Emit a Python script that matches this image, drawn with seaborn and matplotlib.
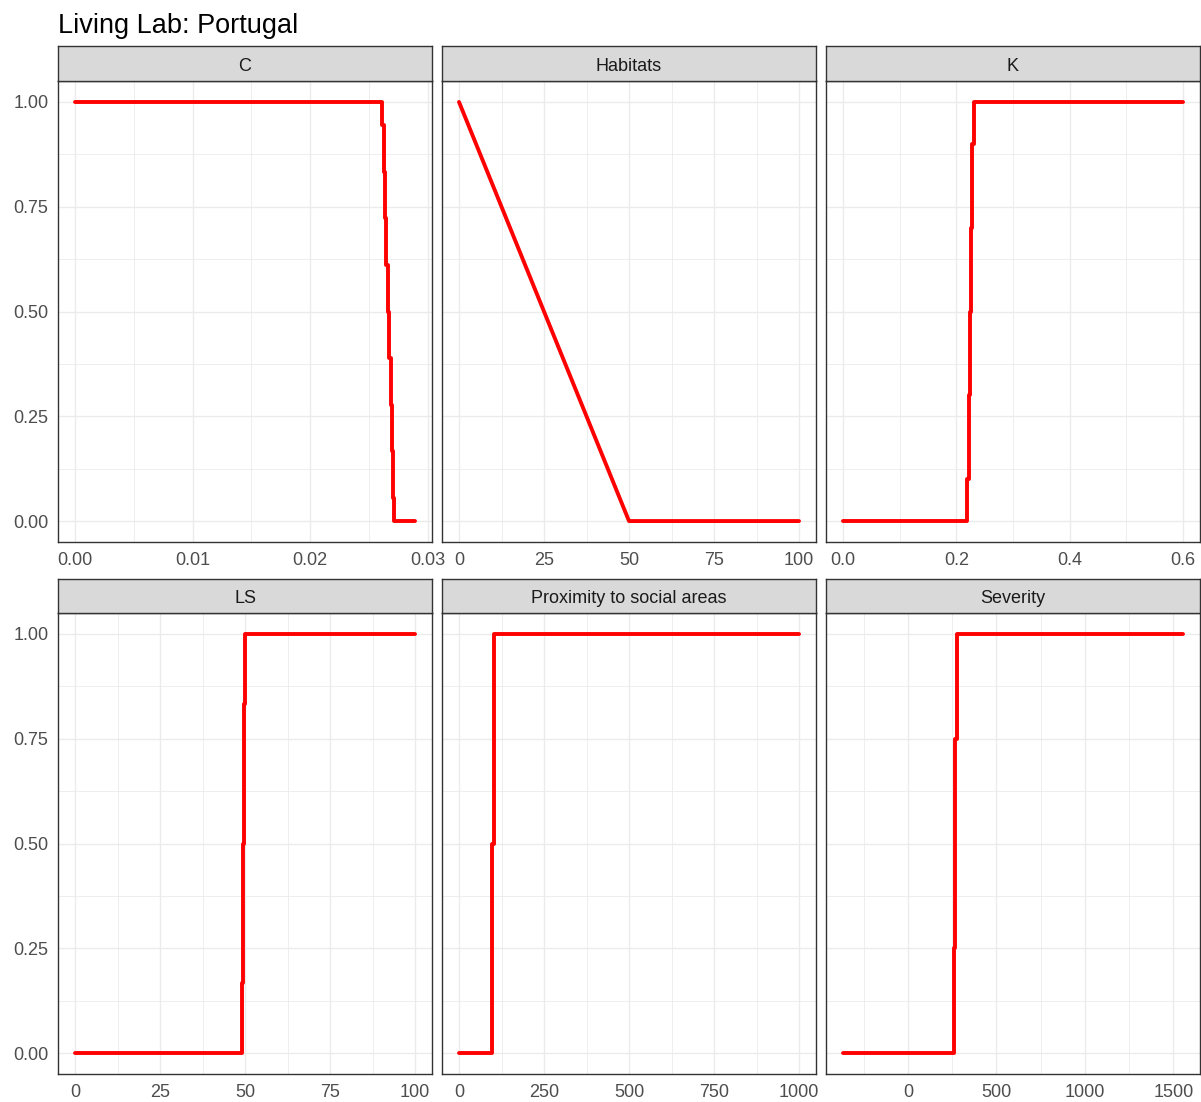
import matplotlib
matplotlib.use("Agg")
import matplotlib.pyplot as plt
from matplotlib.ticker import AutoMinorLocator, FixedLocator
import seaborn as sns
import pandas as pd

sns.set_theme(style="white")
plt.rcParams["font.family"] = ["Liberation Sans", "DejaVu Sans"]

TITLE = "Living Lab: Portugal"

# Facet order and membership curves (x = indicator value, y = membership)
facets = ["C", "Habitats", "K", "LS", "Proximity to social areas", "Severity"]

c_x = [0, 0.0261, 0.0261, 0.02625, 0.02625, 0.02634, 0.02634, 0.02646, 0.02646,
       0.02657, 0.02657, 0.02668, 0.02668, 0.02683, 0.02683, 0.02694, 0.02694,
       0.02702, 0.02702, 0.02715, 0.02715, 0.0289]
c_y = [1, 1, 0.944, 0.944, 0.833, 0.833, 0.722, 0.722, 0.611, 0.611, 0.5, 0.5,
       0.389, 0.389, 0.278, 0.278, 0.167, 0.167, 0.056, 0.056, 0, 0]

hab_x = [0, 50, 100]
hab_y = [1, 0, 0]

k_x = [0, 0.219, 0.219, 0.2215, 0.2215, 0.224, 0.224, 0.226, 0.226, 0.228,
       0.228, 0.2305, 0.2305, 0.6]
k_y = [0, 0, 0.1, 0.1, 0.3, 0.3, 0.5, 0.5, 0.7, 0.7, 0.9, 0.9, 1, 1]

ls_x = [0, 49.05, 49.05, 49.35, 49.35, 49.65, 49.65, 49.95, 49.95, 100]
ls_y = [0, 0, 0.167, 0.167, 0.5, 0.5, 0.833, 0.833, 1, 1]

prox_x = [0, 98, 98, 102, 102, 1000]
prox_y = [0, 0, 0.5, 0.5, 1, 1]

sev_x = [-368, 260, 260, 268, 268, 277, 277, 1555]
sev_y = [0, 0, 0.25, 0.25, 0.75, 0.75, 1, 1]

series = {
    "C": (c_x, c_y),
    "Habitats": (hab_x, hab_y),
    "K": (k_x, k_y),
    "LS": (ls_x, ls_y),
    "Proximity to social areas": (prox_x, prox_y),
    "Severity": (sev_x, sev_y),
}

x_ticks = {
    "C": [0.00, 0.01, 0.02, 0.03],
    "Habitats": [0, 25, 50, 75, 100],
    "K": [0.0, 0.2, 0.4, 0.6],
    "LS": [0, 25, 50, 75, 100],
    "Proximity to social areas": [0, 250, 500, 750, 1000],
    "Severity": [0, 500, 1000, 1500],
}
x_labels = {
    "C": ["0.00", "0.01", "0.02", "0.03"],
    "Habitats": ["0", "25", "50", "75", "100"],
    "K": ["0.0", "0.2", "0.4", "0.6"],
    "LS": ["0", "25", "50", "75", "100"],
    "Proximity to social areas": ["0", "250", "500", "750", "1000"],
    "Severity": ["0", "500", "1000", "1500"],
}
y_ticks = [0.0, 0.25, 0.5, 0.75, 1.0]
y_labels = ["0.00", "0.25", "0.50", "0.75", "1.00"]

W, H = 1201, 1102
fig = plt.figure(figsize=(W / 100, H / 100), dpi=100)
fig.patch.set_facecolor("white")

col_left = [58, 442, 826]
col_w = 374
row_panel = [(81, 542), (613, 1074)]
row_strip = [(46, 81), (579, 613)]

GRID = "#EBEBEB"
BORDER = "#333333"
TICKTXT = "#4D4D4D"

def frac_rect(x0, y0, x1, y1):
    return [x0 / W, 1 - y1 / H, (x1 - x0) / W, (y1 - y0) / H]

for i, name in enumerate(facets):
    r, c = divmod(i, 3)
    x0 = col_left[c]
    x1 = x0 + col_w
    pt, pb = row_panel[r]
    st, sb = row_strip[r]

    ax = fig.add_axes(frac_rect(x0, pt, x1, pb))
    xs, ys = series[name]
    df = pd.DataFrame({"x": xs, "y": ys})
    sns.lineplot(data=df, x="x", y="y", ax=ax, sort=False, estimator=None,
                 color="#FF0000", linewidth=2.8, zorder=3)

    lo, hi = min(xs), max(xs)
    pad = (hi - lo) * 0.05
    ax.set_xlim(lo - pad, hi + pad)
    ax.set_ylim(-0.05, 1.05)

    ax.xaxis.set_major_locator(FixedLocator(x_ticks[name]))
    ax.set_xticklabels(x_labels[name])
    ax.xaxis.set_minor_locator(AutoMinorLocator(2))
    ax.yaxis.set_major_locator(FixedLocator(y_ticks))
    ax.yaxis.set_minor_locator(AutoMinorLocator(2))
    if c == 0:
        ax.set_yticklabels(y_labels)

    ax.grid(True, which="major", color=GRID, linewidth=1.0, zorder=0)
    ax.grid(True, which="minor", color=GRID, linewidth=0.6, zorder=0)
    ax.set_axisbelow(True)
    ax.set_xlabel("")
    ax.set_ylabel("")
    ax.set_facecolor("white")

    ax.tick_params(axis="both", which="major", length=4, width=0.8,
                   color=BORDER, labelsize=13, labelcolor=TICKTXT, pad=3)
    ax.tick_params(axis="both", which="minor", length=0)
    if c != 0:
        ax.tick_params(axis="y", which="both", left=False, labelleft=False)
    for sp in ax.spines.values():
        sp.set_visible(True)
        sp.set_color(BORDER)
        sp.set_linewidth(1.0)

    sax = fig.add_axes(frac_rect(x0, st, x1, sb))
    sax.set_facecolor("#D9D9D9")
    sax.set_xticks([])
    sax.set_yticks([])
    for sp in sax.spines.values():
        sp.set_visible(True)
        sp.set_color(BORDER)
        sp.set_linewidth(1.0)
    sax.text(0.5, 0.42, name, ha="center", va="center", fontsize=13,
             color="#1A1A1A", transform=sax.transAxes)

fig.text(58 / W, 1 - 33 / H, TITLE, ha="left", va="baseline", fontsize=19.5,
         color="black")

fig.savefig("out.png", dpi=100, facecolor="white")
